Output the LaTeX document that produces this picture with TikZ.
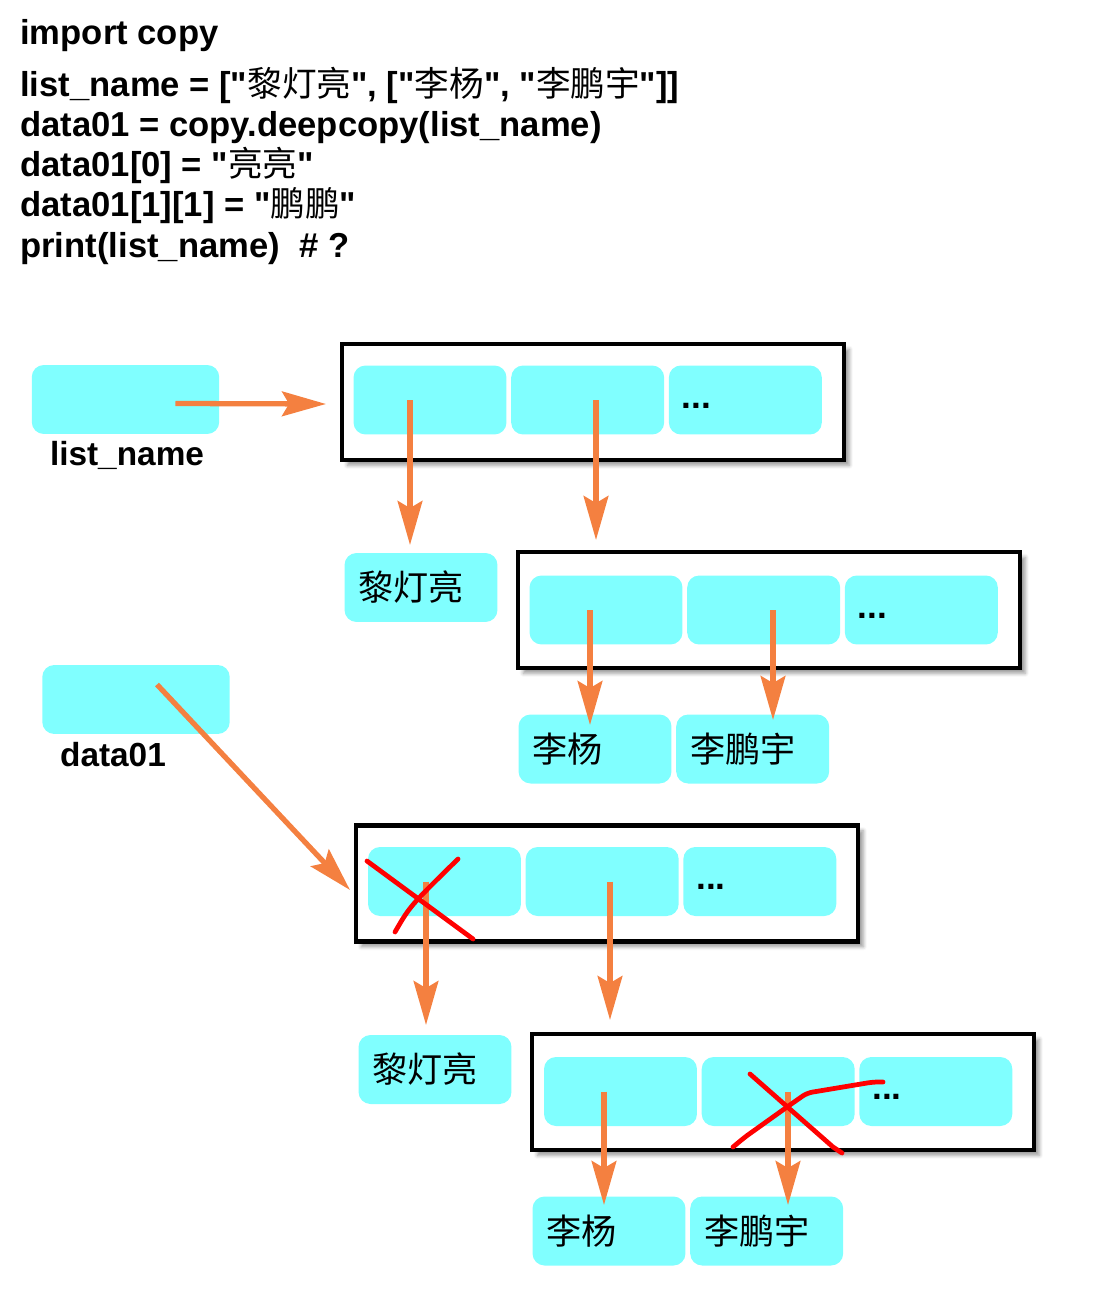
\documentclass[tikz,border=0pt]{standalone}
\usepackage{fontspec}
\setmainfont{Liberation Sans}
\newfontfamily\cjk{Noto Sans CJK SC}
\usetikzlibrary{arrows.meta}
\usetikzlibrary{shadows.blur}
\usetikzlibrary{positioning}
\definecolor{mcyan}{RGB}{128,255,255}
\definecolor{morange}{RGB}{244,128,64}
\definecolor{mred}{RGB}{255,0,0}
\newcommand{\dq}{\textquotedbl}
\tikzset{
    code/.style={anchor=base west, inner sep=0pt, font=\bfseries\fontsize{19.7}{24}\selectfont},
    varname/.style={inner sep=0pt, font=\bfseries\fontsize{19}{23}\selectfont},
    cell/.style={fill=mcyan, rounded corners=0.24cm, minimum width=3.06cm, minimum height=1.38cm, inner sep=0pt},
    varbox/.style={cell, minimum width=3.75cm},
    word/.style={cell, text width=2.5cm, inner xsep=0.28cm, align=left, font=\cjk\fontsize{20}{24}\selectfont},
    more/.style={cell, text width=2.54cm, inner xsep=0.26cm, align=left, font=\bfseries\fontsize{20}{24}\selectfont},
    frame/.style={draw=black, line width=2.4pt, fill=white, minimum width=10.04cm, minimum height=2.32cm, inner sep=0pt, blur shadow={shadow xshift=3pt, shadow yshift=-3pt}},
    ptr/.style={draw=morange, line width=3pt, -{Stealth[length=25pt, width=14pt, inset=4pt]}},
    cross/.style={draw=mred, line width=2.7pt, line cap=round, line join=round}
}

\begin{document}
\begin{tikzpicture}[x=0.02cm, y=-0.02cm]
    \useasboundingbox (0, 0) rectangle (1100, 1300);

    \node[code] (l1) at (20, 45) {import copy};
    \node[code] (l2) at (20, 97) {list\_name = [\dq{\cjk\mdseries 黎灯亮}\dq, [\dq{\cjk\mdseries 李杨}\dq, \dq{\cjk\mdseries 李鹏宇}\dq]]};
    \node[code] (l3) at (20, 137) {data01 = copy.deepcopy(list\_name)};
    \node[code] (l4) at (20, 177) {data01[0] = \dq{\cjk\mdseries 亮亮}\dq};
    \node[code] (l5) at (20, 217) {data01[1][1] = \dq{\cjk\mdseries 鹏鹏}\dq};
    \node[code] (l6) at (20, 258) {print(list\_name)~~\# ?};

    \node[varbox] (vl) at (125.5, 399.5) {};
    \node[varname] (ll) at (127, 455) {list\_name};
    \node[varbox] (vd) at (136, 699.5) {};
    \node[varname] (ld) at (113, 755) {data01};

    \node[frame] (fa) at (593, 402) {};
    \node[cell] (a1) at (430, 400) {};
    \node[cell, right=0.08cm of a1] (a2) {};
    \node[more, right=0.08cm of a2] (a3) {...\strut};

    \node[word] (na) at (421, 587.5) {黎灯亮};

    \node[frame] (fb) at (769, 610) {};
    \node[cell] (b1) at (606, 610) {};
    \node[cell, right=0.08cm of b1] (b2) {};
    \node[more, right=0.08cm of b2] (b3) {...\strut};

    \node[word] (nb1) at (595, 749) {李杨};
    \node[word, right=0.08cm of nb1] (nb2) {李鹏宇};

    \node[frame] (fc) at (607, 883.5) {};
    \node[cell] (c1) at (444.5, 881.5) {};
    \node[cell, right=0.08cm of c1] (c2) {};
    \node[more, right=0.08cm of c2] (c3) {...\strut};

    \node[word] (nc) at (435, 1069.5) {黎灯亮};

    \node[frame] (fd) at (783, 1092) {};
    \node[cell] (d1) at (620.5, 1091.5) {};
    \node[cell, right=0.08cm of d1] (d2) {};
    \node[more, right=0.08cm of d2] (d3) {...\strut};

    \node[word] (nd1) at (609, 1231) {李杨};
    \node[word, right=0.08cm of nd1] (nd2) {李鹏宇};

    \coordinate (hL) at (326, 404);
    \coordinate (hA1) at (410, 545);
    \coordinate (hA2) at (596, 540);
    \coordinate (hB1) at (590, 725);
    \coordinate (hB2) at (773, 720);
    \coordinate (hD) at (350, 890);
    \coordinate (hC1) at (426, 1025);
    \coordinate (hC2) at (610, 1020);
    \coordinate (hD1) at (604, 1205);
    \coordinate (hD2) at (788, 1205);

    \draw[ptr] ([xshift=1cm, yshift=-0.08cm]vl.center) -- (hL);
    \draw[ptr] (a1.center -| hA1) -- (hA1);
    \draw[ptr] (a2.center -| hA2) -- (hA2);
    \draw[ptr] (b1.center -| hB1) -- (hB1);
    \draw[ptr] (b2.center -| hB2) -- (hB2);
    \draw[ptr] ([xshift=0.42cm, yshift=0.3cm]vd.center) -- (hD);
    \draw[ptr] (c1.center -| hC1) -- (hC1);
    \draw[ptr] (c2.center -| hC2) -- (hC2);
    \draw[ptr] (d1.center -| hD1) -- (hD1);
    \draw[ptr] (d2.center -| hD2) -- (hD2);

    \draw[cross] (367, 861) -- (473, 939);
    \draw[cross] (395, 932) .. controls (410, 906) .. (458, 859);
    \draw[cross] (750, 1074) -- (833, 1147) -- (842, 1153);
    \draw[cross, rounded corners=3pt] (733, 1147) -- (745, 1137) -- (787, 1107) -- (807, 1093) -- (873, 1082) -- (883, 1082);
\end{tikzpicture}
\end{document}
